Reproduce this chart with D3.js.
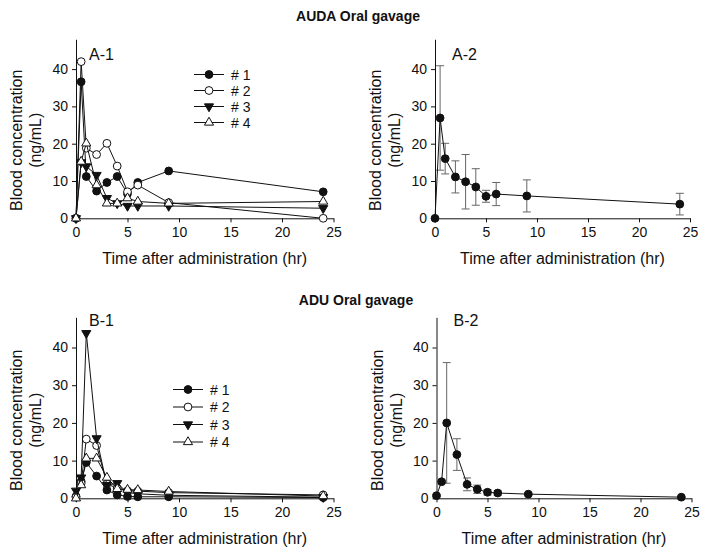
<!DOCTYPE html>
<html><head><meta charset="utf-8">
<script src="https://cdn.jsdelivr.net/npm/d3@7"></script>
<style>body{margin:0;background:#fff}svg{display:block}text{font-family:"Liberation Sans",Arial,sans-serif;fill:#111}</style>
</head><body><svg id="c" width="710" height="556"></svg>
<script>
// ---- data ----
const times = [0, 0.5, 1, 2, 3, 4, 5, 6, 9, 24];
const xTicks = [0, 5, 10, 15, 20, 25];
const yTicks = [0, 10, 20, 30, 40];
const seriesNames = ["# 1", "# 2", "# 3", "# 4"];
// AUDA individual
const auda1 = [0, 36.6, 11.2, 7.3, 9.6, 11.2, 6.6, 9.6, 12.7, 7.1];
const auda2 = [0, 42.0, 18.8, 17.1, 20.1, 14.0, 7.1, 8.9, 4.2, 0];
const auda3 = [0, 15.0, 13.9, 11.6, 5.4, 4.0, 3.3, 3.3, 3.3, 2.7];
const auda4 = [0, 15.2, 20.1, 8.9, 4.0, 4.0, 5.4, 4.5, 4.0, 4.5];
// AUDA mean / SD
const audaMean = [0, 26.9, 16.0, 11.1, 9.8, 8.4, 5.9, 6.5, 6.0, 3.8];
const audaSD   = [0, 14.0, 4.1, 4.3, 7.3, 4.9, 1.6, 3.1, 4.3, 2.9];
// ADU individual
const adu1 = [0.5, 4.5, 9.5, 5.9, 2.2, 0.9, 0.5, 0.4, 0.4, 0.2];
const adu2 = [0.3, 4.0, 15.7, 14.0, 3.8, 2.7, 2.0, 1.9, 1.5, 0.9];
const adu3 = [2.0, 5.5, 43.8, 15.9, 3.5, 4.0, 1.5, 1.2, 0.8, 0.3];
const adu4 = [0, 3.5, 10.6, 10.6, 5.5, 2.5, 2.3, 2.2, 1.8, 0.6];
// ADU mean / SD
const aduMean = [0.7, 4.4, 20.0, 11.6, 3.7, 2.4, 1.6, 1.4, 1.1, 0.3];
const aduSD   = [0.3, 0.4, 16.0, 4.2, 1.7, 1.1, 0.7, 0.6, 0.4, 0.2];

const svg = d3.select("#c");
const FONT = '"Liberation Sans",Arial,sans-serif';
const markerTypes = [
  {sym: d3.symbolCircle, size: 48, fill: "#111", rot: 0},
  {sym: d3.symbolCircle, size: 48, fill: "#fff", rot: 0},
  {sym: d3.symbolTriangle, size: 36, fill: "#111", rot: 180},
  {sym: d3.symbolTriangle, size: 36, fill: "#fff", rot: 0}
];

function styleAxis(a) {
  a.select(".domain").attr("stroke", "#111");
  a.selectAll("line").attr("stroke", "#111");
  a.selectAll("text").attr("font-size", 14).attr("font-family", FONT).attr("fill", "#111");
}

function drawAxes(g, x, y, label, lx, ly) {
  const xr = x.range(), yr = y.range();
  g.append("g").attr("transform", `translate(0,${yr[0]})`)
    .call(d3.axisBottom(x).tickValues(xTicks).tickSize(4).tickPadding(5).tickSizeOuter(0))
    .call(styleAxis);
  g.append("g").attr("transform", `translate(${xr[0]},0)`)
    .call(d3.axisLeft(y).tickValues(yTicks).tickSize(4).tickPadding(4).tickSizeOuter(0))
    .call(styleAxis);
  const cx = (xr[0] + xr[1]) / 2;
  g.append("text").attr("x", cx).attr("y", yr[0] + 46).attr("text-anchor", "middle")
    .attr("font-size", 16).text("Time after administration (hr)");
  const cy = yr[0] - 78;
  g.append("text").attr("transform", `translate(${xr[0] - 54},${cy}) rotate(-90)`)
    .attr("text-anchor", "middle").attr("font-size", 16).text("Blood concentration");
  g.append("text").attr("transform", `translate(${xr[0] - 35},${cy}) rotate(-90)`)
    .attr("text-anchor", "middle").attr("font-size", 16).text("(ng/mL)");
  g.append("text").attr("x", lx).attr("y", ly).attr("font-size", 16).text(label);
}

function drawSeries(g, x, y, vals, mi) {
  const m = markerTypes[mi];
  const pts = times.map((t, i) => [t, vals[i]]);
  g.append("path").datum(pts).attr("fill", "none").attr("stroke", "#111").attr("stroke-width", 1)
    .attr("d", d3.line().x(d => x(d[0])).y(d => y(d[1])));
  g.selectAll(null).data(pts).join("path")
    .attr("d", d3.symbol(m.sym, m.size))
    .attr("transform", d => `translate(${x(d[0])},${y(d[1])}) rotate(${m.rot})`)
    .attr("fill", m.fill).attr("stroke", "#111").attr("stroke-width", 1);
}

function individualPanel(x0, y0, ppu, yppu, data, label, labY, legX, legY, legDy) {
  const x = d3.scaleLinear().domain([0, 25]).range([x0, x0 + 25 * ppu]);
  const y = d3.scaleLinear().domain([0, 48]).range([y0, y0 - 48 * yppu]);
  const g = svg.append("g");
  drawAxes(g, x, y, label, x0 + 13, labY);
  data.forEach((v, i) => drawSeries(g, x, y, v, i));
  seriesNames.forEach((n, i) => {
    const m = markerTypes[i];
    const ly = legY + i * legDy;
    g.append("line").attr("x1", legX).attr("x2", legX + 30).attr("y1", ly).attr("y2", ly).attr("stroke", "#111");
    g.append("path").attr("d", d3.symbol(m.sym, m.size)).attr("transform", `translate(${legX + 15},${ly}) rotate(${m.rot})`)
      .attr("fill", m.fill).attr("stroke", "#111");
    g.append("text").attr("x", legX + 37).attr("y", ly + 5).attr("font-size", 14).text(n);
  });
}

function meanPanel(x0, y0, ppu, yppu, mean, sd, label, labY) {
  const x = d3.scaleLinear().domain([0, 25]).range([x0, x0 + 25 * ppu]);
  const y = d3.scaleLinear().domain([0, 48]).range([y0, y0 - 48 * yppu]);
  const g = svg.append("g");
  drawAxes(g, x, y, label, x0 + 17, labY);
  const pts = times.map((t, i) => ({t, m: mean[i], s: sd[i]}));
  const eb = g.append("g").attr("stroke", "#666").attr("stroke-width", 1);
  pts.filter(d => d.s > 0).forEach(d => {
    const lo = Math.max(0, d.m - d.s), hi = d.m + d.s;
    eb.append("line").attr("x1", x(d.t)).attr("x2", x(d.t)).attr("y1", y(lo)).attr("y2", y(hi));
    eb.append("line").attr("x1", x(d.t) - 4).attr("x2", x(d.t) + 4).attr("y1", y(hi)).attr("y2", y(hi));
    eb.append("line").attr("x1", x(d.t) - 4).attr("x2", x(d.t) + 4).attr("y1", y(lo)).attr("y2", y(lo));
  });
  drawSeries(g, x, y, mean, 0);
}

svg.append("text").attr("x", 358).attr("y", 21).attr("text-anchor", "middle").attr("font-size", 14)
  .attr("font-weight", "bold").text("AUDA Oral gavage");
svg.append("text").attr("x", 356).attr("y", 305).attr("text-anchor", "middle").attr("font-size", 14)
  .attr("font-weight", "bold").text("ADU Oral gavage");

individualPanel(76, 218.3, 10.3, 3.73, [auda1, auda2, auda3, auda4], "A-1", 60, 194, 74.5, 16);
meanPanel(435, 218.3, 10.2, 3.73, audaMean, audaSD, "A-2", 60);
individualPanel(76, 498.3, 10.3, 3.77, [adu1, adu2, adu3, adu4], "B-1", 326, 173, 389.5, 17.5);
meanPanel(436.5, 498.3, 10.2, 3.77, aduMean, aduSD, "B-2", 326);
</script></body></html>
